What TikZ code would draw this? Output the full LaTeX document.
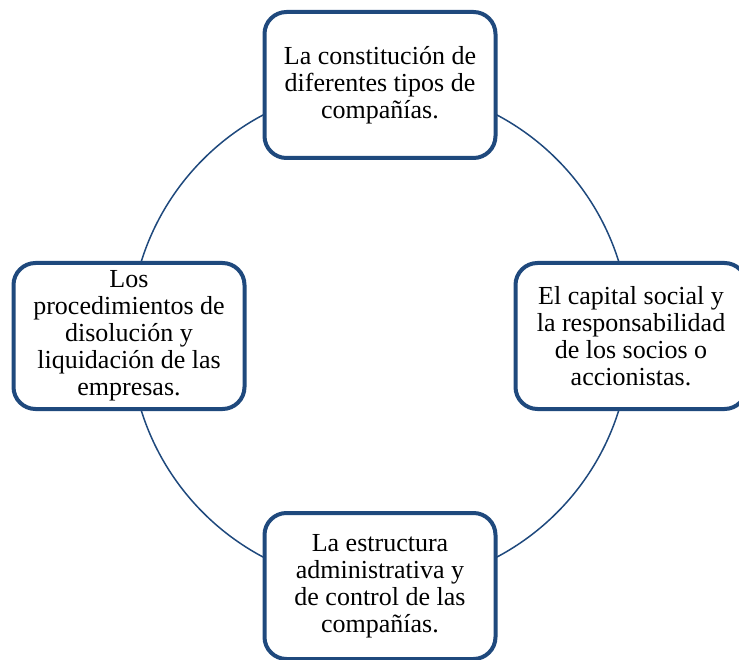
\documentclass[tikz,border=0pt]{standalone}
\usepackage{fontspec}
\setmainfont{Liberation Serif}
\definecolor{ringblue}{RGB}{31,73,125}
\begin{document}
\begin{tikzpicture}[x=1pt,y=-1pt,
  topicbox/.style={draw=ringblue, line width=4pt, fill=white, rounded corners=22pt,
    minimum width=231pt, minimum height=146pt, align=center, inner sep=2pt,
    font=\fontsize{26}{27}\selectfont},
  ringline/.style={draw=ringblue, line width=1.5pt}]
\useasboundingbox (0,0) rectangle (739,660);
\node[circle, ringline, minimum size=500pt, inner sep=0pt] (ring) at (380,336) {};
\node[topicbox] (top) at (380,85) {La constitución de\\diferentes tipos de\\compañías.};
\node[topicbox] (right) at (631,336) {El capital social y\\la responsabilidad\\de los socios o\\accionistas.};
\node[topicbox] (bottom) at (380,586) {La estructura\\administrativa y\\de control de las\\compañías.};
\node[topicbox] (left) at (129,336) {Los\\procedimientos de\\disolución y\\liquidación de las\\empresas.};
\end{tikzpicture}
\end{document}
